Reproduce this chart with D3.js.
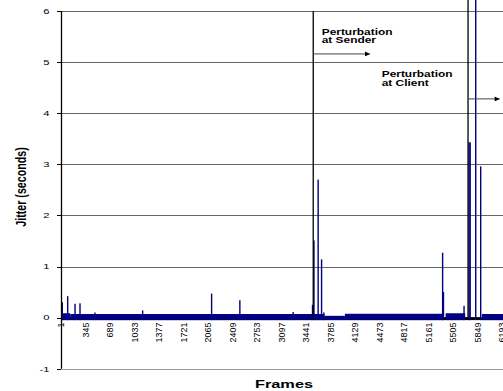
<!DOCTYPE html>
<html><head><meta charset="utf-8">
<script src="https://cdn.jsdelivr.net/npm/d3@7"></script>
<style>html,body{margin:0;padding:0;background:#fff}svg{display:block}</style>
</head><body>
<svg id="chart" width="503" height="391"></svg>
<script>
// Category (frame) tick labels and jitter ticks
const frameTicks = [1,345,689,1033,1377,1721,2065,2409,2753,3097,3441,3785,4129,4473,4817,5161,5505,5849,6193];
const jitterTicks = [-1,0,1,2,3,4,5,6];

// Background jitter level over runs of frames
const baseStart = [1, 130, 3700, 3990, 5405, 5915];
const baseEnd   = [130, 3700, 3990, 5380, 5680, 6450];
const baseLevel = [0.085, 0.07, 0.035, 0.075, 0.085, 0.07];

// Isolated jitter spikes (frame, seconds)
const spikeFrames = [19, 95, 198, 268, 478, 1148, 2117, 2514, 3263, 3535, 3555, 3614, 3662, 3694, 5363, 5375, 5664, 5735, 5750, 5828, 5898];
const spikeJitter = [0.30, 0.42, 0.27, 0.28, 0.10, 0.14, 0.47, 0.34, 0.11, 0.25, 1.51, 2.70, 1.14, 0.10, 1.27, 0.50, 0.23, 3.43, 3.43, 6.40, 2.96];

// Perturbation events
const eventFrames = [3545, 5720];
const eventNames = ["Sender", "Client"];

const W = 503, H = 391;
const svg = d3.select("#chart");
svg.append("rect").attr("width", W).attr("height", H).attr("fill", "#fff");

const x = d3.scaleLinear().domain([1, 6193]).range([61, 501.7]);
const y = d3.scaleLinear().domain([-1, 6]).range([368.7, 11]);

const FONT = "'Liberation Sans', Arial, sans-serif";
const NAVY = "#000080";

// horizontal gridlines
svg.append("g").selectAll("line").data(jitterTicks).join("line")
  .attr("x1", x(1)).attr("x2", W)
  .attr("y1", d => Math.round(y(d)) + 0.5).attr("y2", d => Math.round(y(d)) + 0.5)
  .attr("stroke", d => d === -1 ? "#9a9a9a" : "#666").attr("stroke-width", 1);

// y tick marks
svg.append("g").selectAll("line").data(jitterTicks).join("line")
  .attr("x1", x(1) - 4).attr("x2", x(1))
  .attr("y1", d => Math.round(y(d)) + 0.5).attr("y2", d => Math.round(y(d)) + 0.5)
  .attr("stroke", "#000");

// category axis at zero
svg.append("rect").attr("x", x(1)).attr("width", W - x(1))
  .attr("y", y(0) - 0.5).attr("height", 3).attr("fill", "#000");

// background jitter band
svg.append("g").selectAll("rect").data(baseStart.map((s, i) => ({s, e: baseEnd[i], v: baseLevel[i]}))).join("rect")
  .attr("x", d => x(d.s)).attr("width", d => x(d.e) - x(d.s))
  .attr("y", d => y(d.v)).attr("height", d => y(0) + 2.5 - y(d.v))
  .attr("fill", NAVY);

// spikes
const spikeW = 1.4;
svg.append("g").selectAll("rect").data(spikeFrames.map((f, i) => ({f, v: spikeJitter[i]}))).join("rect")
  .attr("x", d => x(d.f) - spikeW / 2).attr("width", spikeW)
  .attr("y", d => y(d.v)).attr("height", d => y(0) + 2.5 - y(d.v))
  .attr("fill", NAVY);

// perturbation markers
const markerTop = [y(6), 0];
svg.append("g").selectAll("line").data(eventFrames).join("line")
  .attr("x1", d => x(d)).attr("x2", d => x(d))
  .attr("y1", (d, i) => markerTop[i]).attr("y2", y(0) + 2.5)
  .attr("stroke", "#000").attr("stroke-width", 1.3);

// arrows pointing forward in time from each event
const defs = svg.append("defs");
defs.append("marker").attr("id", "head").attr("viewBox", "0 0 10 10")
  .attr("refX", 10).attr("refY", 5).attr("markerWidth", 8).attr("markerHeight", 5)
  .attr("markerUnits", "userSpaceOnUse").attr("orient", "auto")
  .append("path").attr("d", "M0,0L10,5L0,10Z").attr("fill", "#000");

const arrowEnd = [4343, 6165];
const arrowLevel = [5.16, 4.28];
svg.append("g").selectAll("line").data(eventFrames).join("line")
  .attr("x1", d => x(d)).attr("x2", (d, i) => x(arrowEnd[i]))
  .attr("y1", (d, i) => y(arrowLevel[i])).attr("y2", (d, i) => y(arrowLevel[i]))
  .attr("stroke", "#444").attr("stroke-width", 1).attr("marker-end", "url(#head)");

// event captions
const captionFrame = [3664, 4507];
const captionLevel = [5.54, 4.70];
eventNames.forEach((name, i) => {
  const t = svg.append("text")
    .attr("transform", `translate(${x(captionFrame[i])},${y(captionLevel[i])}) scale(1.42,1)`)
    .attr("font-family", FONT).attr("font-size", 8.4).attr("font-weight", "bold").attr("fill", "#000");
  t.append("tspan").attr("x", 0).attr("y", 0).text("Perturbation");
  t.append("tspan").attr("x", 0).attr("y", 8.9).text("at " + name);
});

// left axis
svg.append("line").attr("x1", Math.round(x(1)) + 0.5).attr("x2", Math.round(x(1)) + 0.5)
  .attr("y1", y(6)).attr("y2", y(-1)).attr("stroke", "#000").attr("stroke-width", 1.3);

// y tick labels
svg.append("g").selectAll("text").data(jitterTicks).join("text")
  .attr("transform", d => `translate(49.5,${y(d) + 2.8}) scale(1.4,1)`)
  .attr("text-anchor", "end").attr("font-family", FONT).attr("font-size", 8)
  .attr("fill", "#000").text(d => d);

// frame tick labels, rotated
svg.append("g").selectAll("text").data(frameTicks).join("text")
  .attr("transform", d => `translate(${x(d)},322.5) rotate(-90) scale(1,1.1)`)
  .attr("dy", "0.35em").attr("text-anchor", "end")
  .attr("font-family", FONT).attr("font-size", 9).attr("fill", "#000").text(d => d);

// axis titles
svg.append("text").attr("transform", "translate(21,187) rotate(-90) scale(1,1.3)")
  .attr("dy", "0.35em").attr("text-anchor", "middle")
  .attr("font-family", FONT).attr("font-size", 10.7).attr("font-weight", "bold").text("Jitter (seconds)");

svg.append("text").attr("transform", "translate(284,387.5) scale(1.42,1)")
  .attr("text-anchor", "middle")
  .attr("font-family", FONT).attr("font-size", 11.5).attr("font-weight", "bold").text("Frames");
</script>
</body></html>
